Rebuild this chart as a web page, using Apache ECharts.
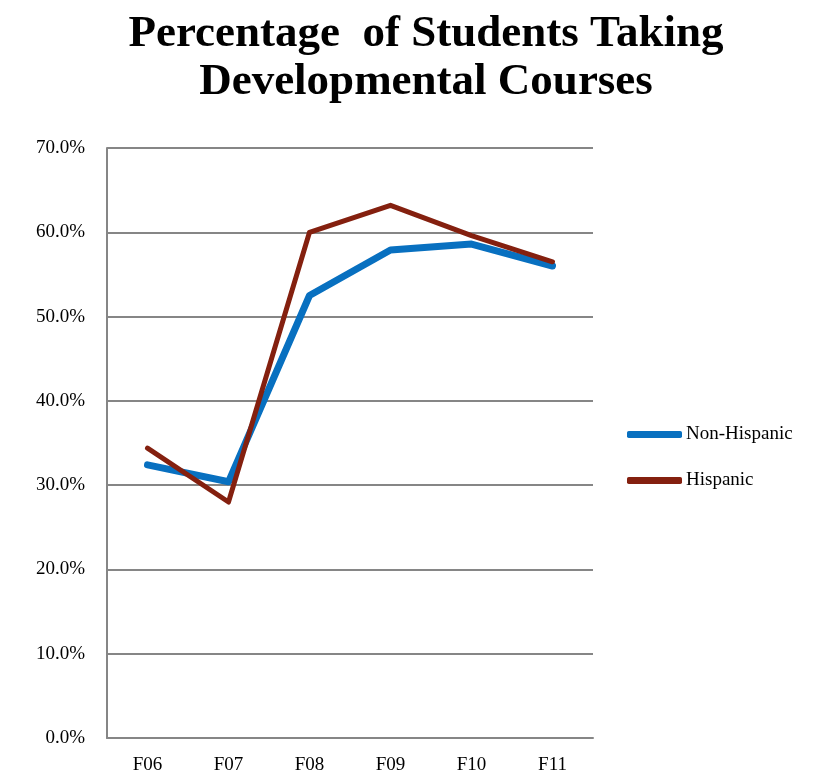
<!DOCTYPE html>
<html>
<head>
<meta charset="utf-8">
<script src="https://cdn.jsdelivr.net/npm/echarts@6/dist/echarts.min.js"></script>
<style>
  html, body { margin: 0; padding: 0; background: #fff; }
  #chart { width: 833px; height: 780px; }
</style>
</head>
<body>
<div id="chart"></div>
<script>
var categories = ['F06', 'F07', 'F08', 'F09', 'F10', 'F11'];
var nonHispanic = [32.4, 30.4, 52.5, 57.9, 58.6, 56.0];
var hispanic = [34.4, 28.0, 60.0, 63.2, 59.6, 56.5];
var seriesNames = ['Non-Hispanic', 'Hispanic'];
var colors = ['#0870C0', '#84200F'];

var font = '"Liberation Serif", "DejaVu Serif", serif';

var chart = echarts.init(document.getElementById('chart'));
chart.setOption({
    animation: false,
    color: colors,
    title: {
        text: 'Percentage  of Students Taking\nDevelopmental Courses',
        left: 421,
        textAlign: 'center',
        top: 5,
        textStyle: {
            fontFamily: font,
            fontWeight: 'bold',
            fontSize: 45,
            lineHeight: 48,
            color: '#000'
        }
    },
    legend: {
        orient: 'vertical',
        left: 622,
        top: 420,
        icon: 'roundRect',
        itemWidth: 55,
        itemHeight: 7,
        itemGap: 27,
        textStyle: { fontFamily: font, fontSize: 19, color: '#000', padding: [0, 0, 0, -1] },
        data: seriesNames
    },
    grid: { left: 107, right: 240, top: 148, bottom: 42 },
    xAxis: {
        type: 'category',
        data: categories,
        boundaryGap: true,
        axisLine: { lineStyle: { color: '#868686', width: 2 } },
        axisTick: { show: false },
        axisLabel: { fontFamily: font, fontSize: 19, color: '#000', margin: 18 }
    },
    yAxis: {
        type: 'value',
        min: 0,
        max: 70,
        interval: 10,
        axisLine: { show: true, lineStyle: { color: '#868686', width: 2 } },
        axisTick: { show: false },
        splitLine: { lineStyle: { color: '#868686', width: 2 } },
        axisLabel: {
            fontFamily: font, fontSize: 19, color: '#000', margin: 22,
            formatter: function (v) { return v.toFixed(1) + '%'; }
        }
    },
    series: [{
        name: seriesNames[0],
        type: 'line',
        data: nonHispanic,
        symbol: 'none',
        lineStyle: { width: 7, cap: 'round', join: 'round' }
    }, {
        name: seriesNames[1],
        type: 'line',
        data: hispanic,
        symbol: 'none',
        lineStyle: { width: 5, cap: 'round', join: 'round' }
    }]
});
window.addEventListener('resize', function () {
    chart.resize();
});
</script>
</body>
</html>
